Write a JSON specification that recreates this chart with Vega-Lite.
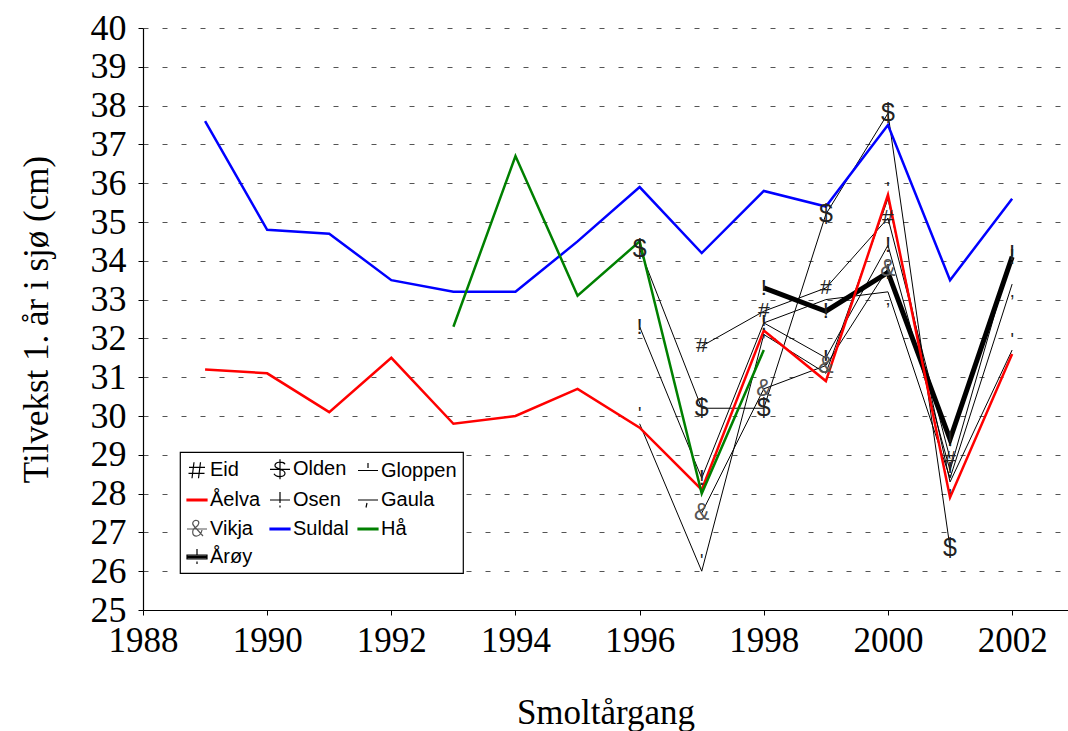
{
  "$schema": "https://vega.github.io/schema/vega-lite/v6.json",
  "width": 925,
  "height": 582,
  "autosize": {"type": "none"},
  "padding": {"left": 143, "top": 28, "right": 0, "bottom": 121},
  "background": "white",
  "config": {
    "view": {"stroke": null},
    "font": "Liberation Serif",
    "legend": {
      "orient": "none",
      "legendX": 37,
      "legendY": 424,
      "columns": 3,
      "direction": "horizontal",
      "labelFont": "Liberation Sans",
      "labelFontSize": 20,
      "labelColor": "black",
      "labelOffset": 2,
      "symbolSize": 400,
      "symbolStrokeWidth": 1.2,
      "columnPadding": 6,
      "rowPadding": 7,
      "padding": 6,
      "strokeColor": "black",
      "strokeWidth": 1.2,
      "fillColor": "white",
      "symbolOpacity": 1
    }
  },
  "data": {
    "values": [
      {"series": "Suldal", "year": 1989, "value": 37.6},
      {"series": "Suldal", "year": 1990, "value": 34.8},
      {"series": "Suldal", "year": 1991, "value": 34.7},
      {"series": "Suldal", "year": 1992, "value": 33.5},
      {"series": "Suldal", "year": 1993, "value": 33.2},
      {"series": "Suldal", "year": 1994, "value": 33.2},
      {"series": "Suldal", "year": 1995, "value": 34.5},
      {"series": "Suldal", "year": 1996, "value": 35.9},
      {"series": "Suldal", "year": 1997, "value": 34.2},
      {"series": "Suldal", "year": 1998, "value": 35.8},
      {"series": "Suldal", "year": 1999, "value": 35.4},
      {"series": "Suldal", "year": 2000, "value": 37.5},
      {"series": "Suldal", "year": 2001, "value": 33.5},
      {"series": "Suldal", "year": 2002, "value": 35.6},
      {"series": "Åelva", "year": 1989, "value": 31.2},
      {"series": "Åelva", "year": 1990, "value": 31.1},
      {"series": "Åelva", "year": 1991, "value": 30.1},
      {"series": "Åelva", "year": 1992, "value": 31.5},
      {"series": "Åelva", "year": 1993, "value": 29.8},
      {"series": "Åelva", "year": 1994, "value": 30.0},
      {"series": "Åelva", "year": 1995, "value": 30.7},
      {"series": "Åelva", "year": 1996, "value": 29.7},
      {"series": "Åelva", "year": 1997, "value": 28.1},
      {"series": "Åelva", "year": 1998, "value": 32.2},
      {"series": "Åelva", "year": 1999, "value": 30.9},
      {"series": "Åelva", "year": 2000, "value": 35.7},
      {"series": "Åelva", "year": 2001, "value": 27.9},
      {"series": "Åelva", "year": 2002, "value": 31.6},
      {"series": "Hå", "year": 1993, "value": 32.3},
      {"series": "Hå", "year": 1994, "value": 36.7},
      {"series": "Hå", "year": 1995, "value": 33.1},
      {"series": "Hå", "year": 1996, "value": 34.5},
      {"series": "Hå", "year": 1997, "value": 28.0},
      {"series": "Hå", "year": 1998, "value": 31.7},
      {"series": "Årøy", "year": 1998, "value": 33.3},
      {"series": "Årøy", "year": 1999, "value": 32.7},
      {"series": "Årøy", "year": 2000, "value": 33.7},
      {"series": "Årøy", "year": 2001, "value": 29.4},
      {"series": "Årøy", "year": 2002, "value": 34.1},
      {"series": "Eid", "year": 1997, "value": 31.8},
      {"series": "Eid", "year": 1998, "value": 32.7},
      {"series": "Eid", "year": 1999, "value": 33.3},
      {"series": "Eid", "year": 2000, "value": 35.1},
      {"series": "Eid", "year": 2001, "value": 28.9},
      {"series": "Olden", "year": 1996, "value": 34.3},
      {"series": "Olden", "year": 1997, "value": 30.2},
      {"series": "Olden", "year": 1998, "value": 30.2},
      {"series": "Olden", "year": 1999, "value": 35.2},
      {"series": "Olden", "year": 2000, "value": 37.8},
      {"series": "Olden", "year": 2001, "value": 26.6},
      {"series": "Osen", "year": 1996, "value": 32.3},
      {"series": "Osen", "year": 1997, "value": 28.4},
      {"series": "Osen", "year": 1998, "value": 32.4},
      {"series": "Osen", "year": 1999, "value": 31.5},
      {"series": "Osen", "year": 2000, "value": 34.4},
      {"series": "Osen", "year": 2001, "value": 28.6},
      {"series": "Osen", "year": 2002, "value": 34.2},
      {"series": "Gloppen", "year": 1996, "value": 29.8},
      {"series": "Gloppen", "year": 1997, "value": 26.0},
      {"series": "Gloppen", "year": 1998, "value": 32.1},
      {"series": "Gloppen", "year": 1999, "value": 31.1},
      {"series": "Gloppen", "year": 2000, "value": 35.6},
      {"series": "Gloppen", "year": 2001, "value": 28.3},
      {"series": "Gloppen", "year": 2002, "value": 31.7},
      {"series": "Gaula", "year": 1998, "value": 32.4},
      {"series": "Gaula", "year": 1999, "value": 33.0},
      {"series": "Gaula", "year": 2000, "value": 33.2},
      {"series": "Gaula", "year": 2001, "value": 28.4},
      {"series": "Gaula", "year": 2002, "value": 33.4},
      {"series": "Vikja", "year": 1997, "value": 27.5},
      {"series": "Vikja", "year": 1998, "value": 30.7},
      {"series": "Vikja", "year": 1999, "value": 31.3},
      {"series": "Vikja", "year": 2000, "value": 33.8}
    ]
  },
  "encoding": {
    "x": {
      "field": "year",
      "type": "quantitative",
      "scale": {"domain": [1988, 2002.9], "nice": false, "zero": false},
      "axis": {
        "values": [1988, 1990, 1992, 1994, 1996, 1998, 2000, 2002],
        "format": "d",
        "title": "Smoltårgang",
        "titleFont": "Liberation Serif",
        "titleFontSize": 35,
        "titleFontWeight": "normal",
        "titleColor": "black",
        "titlePadding": 37,
        "labelFont": "Liberation Serif",
        "labelFontSize": 35,
        "labelColor": "black",
        "labelPadding": 8,
        "labelFlush": false,
        "labelOverlap": false,
        "tickSize": 5,
        "tickColor": "black",
        "domainColor": "black",
        "domainWidth": 1.2,
        "grid": false
      }
    },
    "y": {
      "field": "value",
      "type": "quantitative",
      "scale": {"domain": [25, 40], "nice": false, "zero": false},
      "axis": {
        "values": [25, 26, 27, 28, 29, 30, 31, 32, 33, 34, 35, 36, 37, 38, 39, 40],
        "title": "Tilvekst 1. år i sjø (cm)",
        "titleFont": "Liberation Serif",
        "titleFontSize": 35,
        "titleFontWeight": "normal",
        "titleColor": "black",
        "titlePadding": 36,
        "labelFont": "Liberation Serif",
        "labelFontSize": 36,
        "labelColor": "black",
        "labelPadding": 12,
        "labelFlush": false,
        "labelOverlap": false,
        "tickSize": 5,
        "tickColor": "black",
        "domainColor": "black",
        "domainWidth": 1.2,
        "grid": true,
        "gridColor": "#555555",
        "gridDash": [5, 14],
        "gridWidth": 1
      }
    }
  },
  "layer": [
    {
      "transform": [{"filter": "indexof(['Eid','Olden','Gloppen','Osen','Gaula','Vikja'], datum.series) >= 0"}],
      "mark": {"type": "line", "color": "black", "strokeWidth": 1},
      "encoding": {"detail": {"field": "series", "type": "nominal"}}
    },
    {
      "transform": [{"filter": "datum.series == 'Årøy'"}],
      "mark": {"type": "line", "color": "black", "strokeWidth": 5},
      "encoding": {}
    },
    {
      "transform": [{"filter": "datum.series == 'Suldal'"}],
      "mark": {"type": "line", "color": "#0000ff", "strokeWidth": 2.5},
      "encoding": {}
    },
    {
      "transform": [{"filter": "datum.series == 'Åelva'"}],
      "mark": {"type": "line", "color": "#ff0000", "strokeWidth": 2.5},
      "encoding": {}
    },
    {
      "transform": [{"filter": "datum.series == 'Hå'"}],
      "mark": {"type": "line", "color": "#008000", "strokeWidth": 2.5},
      "encoding": {}
    },
    {
      "transform": [{"filter": "datum.series == 'Eid'"}],
      "mark": {"type": "text", "text": "#", "font": "Liberation Sans", "fontSize": 21, "color": "#222222", "baseline": "middle", "align": "center"}
    },
    {
      "transform": [{"filter": "datum.series == 'Olden'"}],
      "mark": {"type": "text", "text": "$", "font": "Liberation Sans", "fontSize": 25, "color": "#222222", "baseline": "middle", "align": "center"}
    },
    {
      "transform": [{"filter": "datum.series == 'Osen' || datum.series == 'Årøy'"}],
      "mark": {"type": "text", "text": "!", "font": "Liberation Sans", "fontSize": 22, "color": "#222222", "baseline": "middle", "align": "center"}
    },
    {
      "transform": [{"filter": "datum.series == 'Gloppen'"}],
      "mark": {"type": "text", "text": "'", "font": "Liberation Sans", "fontSize": 18, "color": "#222222", "baseline": "middle", "align": "center", "dy": -9}
    },
    {
      "transform": [{"filter": "datum.series == 'Gaula'"}],
      "mark": {"type": "text", "text": ",", "font": "Liberation Sans", "fontSize": 18, "color": "#222222", "baseline": "middle", "align": "center", "dy": 8}
    },
    {
      "transform": [{"filter": "datum.series == 'Vikja'"}],
      "mark": {"type": "text", "text": "&", "font": "Liberation Sans", "fontSize": 23, "color": "#555555", "baseline": "middle", "align": "center"}
    },
    {
      "mark": {"type": "point", "filled": false, "opacity": 0},
      "encoding": {
        "color": {
          "field": "series",
          "type": "nominal",
          "scale": {
            "domain": ["Eid", "Olden", "Gloppen", "Åelva", "Osen", "Gaula", "Vikja", "Suldal", "Hå", "Årøy"],
            "range": ["black", "black", "black", "#ff0000", "black", "black", "#555555", "#0000ff", "#008000", "black"]
          },
          "legend": {"title": null}
        },
        "shape": {
          "field": "series",
          "type": "nominal",
          "scale": {
            "domain": ["Eid", "Olden", "Gloppen", "Åelva", "Osen", "Gaula", "Vikja", "Suldal", "Hå", "Årøy"],
            "range": [
              "M-0.3,-0.8L-0.5,0.8M0.35,-0.8L0.15,0.8M-0.8,-0.3H0.8M-0.85,0.3H0.75",
              "M-1,0H1M0.5,-0.5C0.35,-0.8 -0.55,-0.8 -0.5,-0.35C-0.45,0 0.5,-0.05 0.5,0.4C0.5,0.8 -0.4,0.85 -0.6,0.45M0,-1V1",
              "M-1,0H1M0,-0.75V-0.25",
              "M-1,-0.08H1V0.08H-1ZM-1,0H1",
              "M-1,0H1M0,-0.8V0.3M0,0.55V0.75",
              "M-1,0H1M-0.1,0.3L-0.2,0.75",
              "M-1,0H1M0.6,0.7L-0.3,-0.3C-0.6,-0.6 -0.3,-0.95 0,-0.85C0.3,-0.75 0.2,-0.4 -0.1,-0.2C-0.6,0.1 -0.5,0.75 0,0.7C0.3,0.65 0.45,0.35 0.5,0.1",
              "M-1,-0.08H1V0.08H-1ZM-1,0H1",
              "M-1,-0.08H1V0.08H-1ZM-1,0H1",
              "M-1,-0.2H1V0.2H-1ZM-1,-0.07H1M-1,0.07H1M0,-0.8V-0.2M0,0.45V0.7"
            ]
          },
          "legend": {"title": null}
        }
      }
    }
  ]
}
